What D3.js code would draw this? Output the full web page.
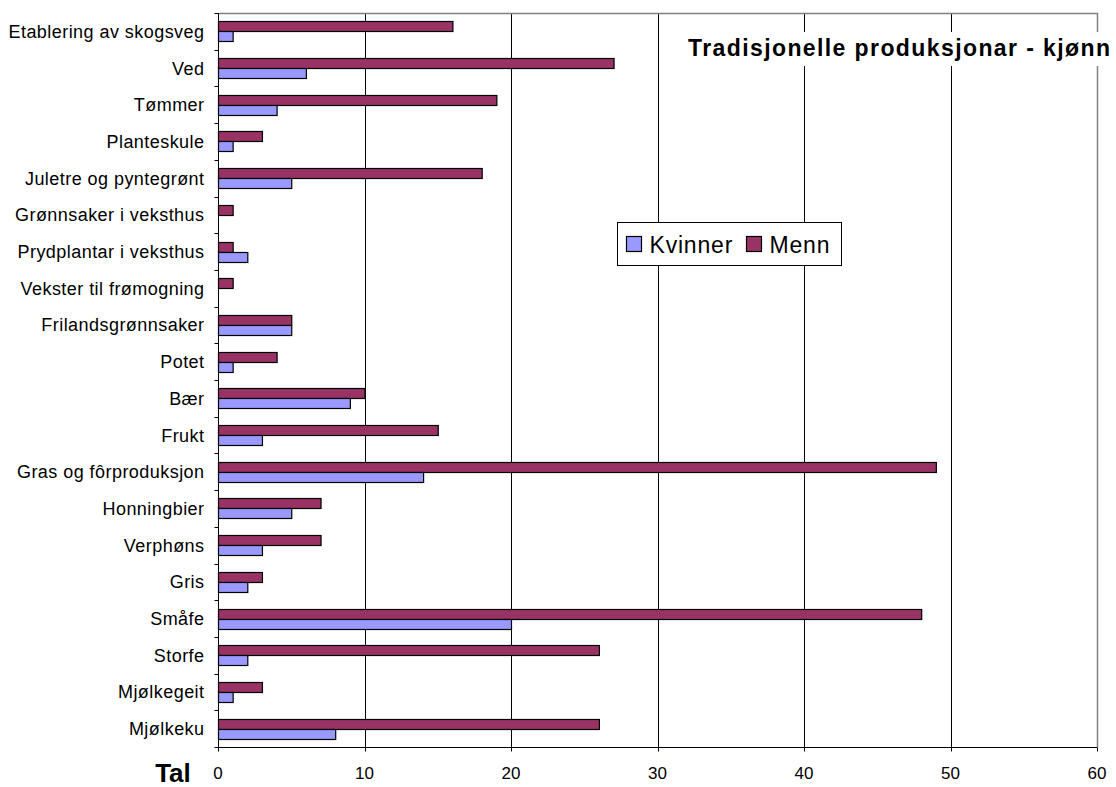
<!DOCTYPE html>
<html>
<head>
<meta charset="utf-8">
<script src="https://cdn.jsdelivr.net/npm/d3@7"></script>
<style>
body { margin: 0; background: #fff; }
svg { font-family: "Liberation Sans", Arial, sans-serif; }
</style>
</head>
<body>
<svg width="1116" height="787"></svg>
<script>
// categories top to bottom
var categories = ["Etablering av skogsveg", "Ved", "Tømmer", "Planteskule", "Juletre og pyntegrønt",
    "Grønnsaker i veksthus", "Prydplantar i veksthus", "Vekster til frømogning", "Frilandsgrønnsaker",
    "Potet", "Bær", "Frukt", "Gras og fôrproduksjon", "Honningbier", "Verphøns", "Gris", "Småfe",
    "Storfe", "Mjølkegeit", "Mjølkeku"];
var menn =    [16, 27, 19, 3, 18, 1, 1, 1, 5, 4, 10, 15, 49, 7, 7, 3, 48, 26, 3, 26];
var kvinner = [1, 6, 4, 1, 5, 0, 2, 0, 5, 1, 9, 3, 14, 5, 3, 2, 20, 2, 1, 8];
var seriesNames = ["Kvinner", "Menn"];
var seriesColors = ["#9999ff", "#993366"];
var xTicks = [0, 10, 20, 30, 40, 50, 60];

var plotLeft = 218, plotRight = 1097, plotTop = 13, plotBottom = 747;

var svg = d3.select("svg");

var x = d3.scaleLinear().domain([0, 60]).range([plotLeft, plotRight]);
var y = d3.scaleBand().domain(categories).range([plotTop, plotBottom]);
var barH = 10;

// grid lines
svg.append("g")
    .selectAll("line")
    .data(xTicks.filter(function (d) { return d > 0 && d < 60; }))
    .enter()
    .append("line")
    .attr("x1", function (d) { return Math.round(x(d)) + 0.5; })
    .attr("x2", function (d) { return Math.round(x(d)) + 0.5; })
    .attr("y1", plotTop)
    .attr("y2", plotBottom)
    .attr("stroke", "#000")
    .attr("stroke-width", 1);

// plot border top/right
svg.append("path")
    .attr("d", "M" + (plotLeft + 0.5) + "," + (plotTop + 0.5) + "H" + (plotRight + 0.5) + "V" + (plotBottom + 0.5))
    .attr("fill", "none")
    .attr("stroke", "#808080")
    .attr("stroke-width", 1.5);

// bars
var groups = svg.append("g")
    .selectAll("g")
    .data(categories)
    .enter()
    .append("g");

groups.append("rect")
    .attr("x", x(0) + 0.5)
    .attr("y", function (d) { return Math.round(y(d) + y.bandwidth() / 2) - barH + 0.5; })
    .attr("width", function (d, i) { return Math.max(0, x(menn[i]) - x(0)); })
    .attr("height", barH)
    .attr("fill", seriesColors[1])
    .attr("stroke", "#000")
    .attr("stroke-width", function (d, i) { return menn[i] > 0 ? 1.2 : 0; });

groups.append("rect")
    .attr("x", x(0) + 0.5)
    .attr("y", function (d) { return Math.round(y(d) + y.bandwidth() / 2) + 0.5; })
    .attr("width", function (d, i) { return Math.max(0, x(kvinner[i]) - x(0)); })
    .attr("height", barH)
    .attr("fill", seriesColors[0])
    .attr("stroke", "#000")
    .attr("stroke-width", function (d, i) { return kvinner[i] > 0 ? 1.2 : 0; });

// y axis
var yAxis = svg.append("g")
    .attr("transform", "translate(" + (plotLeft + 0.5) + ",0)");
yAxis.append("line")
    .attr("y1", plotTop).attr("y2", plotBottom + 4)
    .attr("stroke", "#000");
yAxis.selectAll("line.tk")
    .data([plotTop].concat(categories.map(function (d) { return y(d) + y.bandwidth(); })))
    .enter()
    .append("line")
    .attr("class", "tk")
    .attr("x1", -4).attr("x2", 0)
    .attr("y1", function (d) { return Math.round(d) + 0.5; })
    .attr("y2", function (d) { return Math.round(d) + 0.5; })
    .attr("stroke", "#000");
yAxis.selectAll("text")
    .data(categories)
    .enter()
    .append("text")
    .attr("x", -14)
    .attr("y", function (d) { return y(d) + y.bandwidth() / 2; })
    .attr("dy", "0.36em")
    .attr("text-anchor", "end")
    .attr("font-size", 18)
    .attr("letter-spacing", 0.45)
    .attr("fill", "#000")
    .text(function (d) { return d; });

// x axis
var xAxis = svg.append("g")
    .attr("transform", "translate(0," + (plotBottom + 0.5) + ")");
xAxis.append("line")
    .attr("x1", plotLeft).attr("x2", plotRight)
    .attr("stroke", "#000");
xAxis.selectAll("line.t")
    .data(xTicks)
    .enter()
    .append("line")
    .attr("class", "t")
    .attr("x1", function (d) { return Math.round(x(d)) + 0.5; })
    .attr("x2", function (d) { return Math.round(x(d)) + 0.5; })
    .attr("y1", 0).attr("y2", 4)
    .attr("stroke", "#000");
xAxis.selectAll("text")
    .data(xTicks)
    .enter()
    .append("text")
    .attr("x", function (d) { return x(d); })
    .attr("y", 31.5)
    .attr("text-anchor", "middle")
    .attr("font-size", 17)
    .text(function (d) { return d; });

svg.append("text")
    .attr("x", 173)
    .attr("y", 782)
    .attr("text-anchor", "middle")
    .attr("font-size", 26)
    .attr("font-weight", "bold")
    .text("Tal");

// title with white background
var title = svg.append("g");
title.append("rect")
    .attr("x", 684).attr("y", 32).attr("width", 432).attr("height", 34)
    .attr("fill", "#fff");
title.append("text")
    .attr("x", 688)
    .attr("y", 56)
    .attr("font-size", 23)
    .attr("font-weight", "bold")
    .attr("textLength", 422)
    .attr("lengthAdjust", "spacing")
    .text("Tradisjonelle produksjonar - kjønn");

// legend
var legend = svg.append("g").attr("transform", "translate(617.5,222.5)");
legend.append("rect")
    .attr("width", 224).attr("height", 43)
    .attr("fill", "#fff")
    .attr("stroke", "#000")
    .attr("stroke-width", 1);
var legendX = [9, 129];
var items = legend.selectAll("g")
    .data(seriesNames)
    .enter()
    .append("g")
    .attr("transform", function (d, i) { return "translate(" + legendX[i] + ",0)"; });
items.append("rect")
    .attr("x", 0).attr("y", 14)
    .attr("width", 15).attr("height", 15)
    .attr("fill", function (d, i) { return seriesColors[i]; })
    .attr("stroke", "#000")
    .attr("stroke-width", 1.2);
items.append("text")
    .attr("x", 23)
    .attr("y", 30)
    .attr("font-size", 23)
    .attr("letter-spacing", 0.8)
    .text(function (d) { return d; });
</script>
</body>
</html>
